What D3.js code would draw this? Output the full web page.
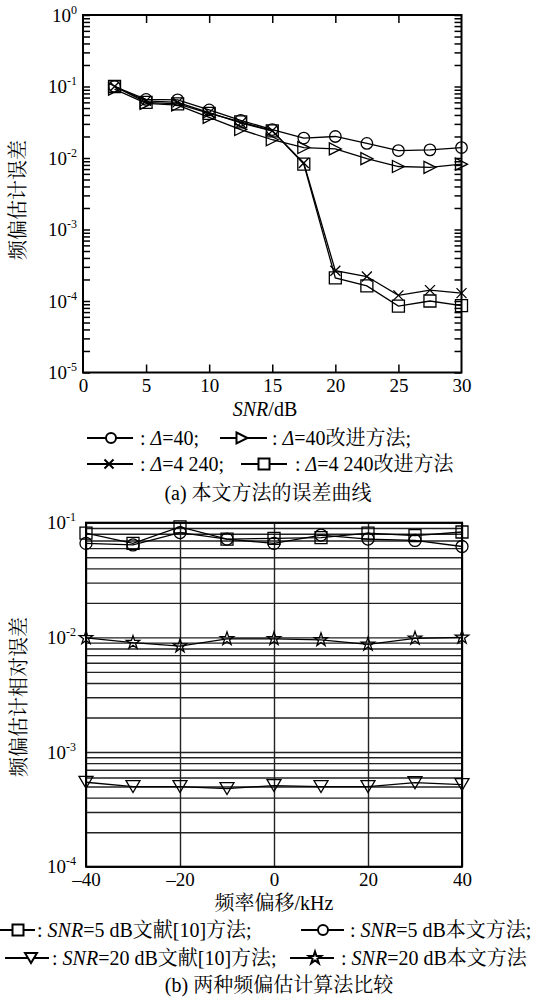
<!DOCTYPE html>
<html>
<head>
<meta charset="utf-8">
<script src="https://cdn.jsdelivr.net/npm/d3@7"></script>
<style>
body { margin: 0; background: #fff; }
</style>
</head>
<body>
<svg id="chart" width="549" height="1000"></svg>
<script>
// (a) error vs SNR
const snr = [2.5, 5, 7.5, 10, 12.5, 15, 17.5, 20, 22.5, 25, 27.5, 30];
const d40 = [0.100, 0.066, 0.065, 0.047, 0.0335, 0.025, 0.019, 0.020, 0.016, 0.0127, 0.013, 0.014];
const d40imp = [0.092, 0.058, 0.055, 0.037, 0.025, 0.018, 0.014, 0.0134, 0.0098, 0.0076, 0.0074, 0.0082];
const d4240 = [0.100, 0.063, 0.060, 0.043, 0.031, 0.024, 0.0085, 0.000265, 0.00022, 0.00012, 0.000142, 0.000129];
const d4240imp = [0.100, 0.060, 0.057, 0.042, 0.032, 0.024, 0.0082, 0.00021, 0.000163, 0.000085, 0.0001, 0.000086];
const snrTicks = [0, 5, 10, 15, 20, 25, 30];
const topLegend = [": Δ=40;", ": Δ=40改进方法;", ": Δ=4 240;", ": Δ=4 240改进方法"];

// (b) error vs frequency offset
const offsets = [-40, -30, -20, -10, 0, 10, 20, 30, 40];
const ref5 = [0.081, 0.066, 0.092, 0.072, 0.073, 0.074, 0.081, 0.077, 0.083];
const our5 = [0.066, 0.064, 0.082, 0.072, 0.066, 0.078, 0.072, 0.070, 0.062];
const ref20 = [0.000545, 0.0005, 0.0005, 0.00048, 0.00051, 0.0005, 0.0005, 0.00054, 0.00052];
const our20 = [0.0099, 0.0090, 0.0084, 0.0097, 0.0097, 0.0095, 0.0087, 0.0098, 0.0100];
const offTicks = [-40, -20, 0, 20, 40];
const offTickLabels = ["\u201340", "\u201320", "0", "20", "40"];
const botLegend = [": SNR=5 dB文献[10]方法;", ": SNR=5 dB本文方法;", ": SNR=20 dB文献[10]方法;", ": SNR=20 dB本文方法"];

const FONT = '"Liberation Serif", "Noto Serif CJK SC", serif';
const svg = d3.select("#chart").style("font-family", FONT);

function rich(sel, str) {
    str.split(/(Δ|SNR)/).filter(s => s).forEach(s => {
        sel.append("tspan")
            .style("font-style", (s === "Δ" || s === "SNR") ? "italic" : "normal")
            .text(s);
    });
}

function markerPath(type, s) {
    const h = s / 2;
    if (type === "circle") return d3.symbol(d3.symbolCircle, Math.PI * h * h)();
    if (type === "square") return d3.symbol(d3.symbolSquare, s * s)();
    if (type === "star") return d3.symbol(d3.symbolStar, h * h / 0.89)();
    if (type === "cross") return `M${-h},${-h}L${h},${h}M${-h},${h}L${h},${-h}`;
    if (type === "triRight") return `M${-h},${-h}L${h},0L${-h},${h}Z`;
    if (type === "triDown") return `M${-h},${-h * 0.85}L${h},${-h * 0.85}L0,${h * 0.85}Z`;
}

function decadeLabels(g, y, exps, xRight) {
    exps.forEach(e => {
        const t = g.append("text")
            .attr("x", xRight)
            .attr("y", y(Math.pow(10, e)) + 6.5)
            .attr("text-anchor", "end")
            .style("font-size", "19px");
        t.append("tspan").text("10");
        t.append("tspan").attr("dy", -8).style("font-size", "12px").text(e === 0 ? "0" : "-" + (-e));
    });
}

function logMinor(lo, hi) {
    const v = [];
    for (let e = lo; e < hi; e++) for (let k = 1; k < 10; k++) v.push(k * Math.pow(10, e));
    v.push(Math.pow(10, hi));
    return v;
}

function drawSeries(g, x, y, xs, ys, type, size) {
    const pts = xs.map((d, i) => [d, ys[i]]);
    g.append("path")
        .attr("d", d3.line().x(d => x(d[0])).y(d => y(d[1]))(pts))
        .attr("fill", "none").attr("stroke", "#000").attr("stroke-width", 1.3);
    g.selectAll(null).data(pts).join("path")
        .attr("transform", d => `translate(${x(d[0])},${y(d[1])})`)
        .attr("d", markerPath(type, size))
        .attr("fill", "none").attr("stroke", "#000").attr("stroke-width", 1.3);
}

function legendItem(g, x0, x1, xm, cy, type, size, tx, label) {
    g.append("line").attr("x1", x0).attr("x2", x1).attr("y1", cy).attr("y2", cy)
        .attr("stroke", "#000").attr("stroke-width", 2);
    g.append("path").attr("transform", `translate(${xm},${cy})`)
        .attr("d", markerPath(type, size))
        .attr("fill", "#fff").attr("stroke", "#000").attr("stroke-width", 2);
    const t = g.append("text").attr("x", tx).attr("y", cy + 7).style("font-size", "20px");
    rich(t, label);
}

// ---------- panel (a) ----------
{
    const L = 83, R = 461.5, T = 15, B = 372.5;
    const x = d3.scaleLinear().domain([0, 30]).range([L, R]);
    const y = d3.scaleLog().domain([1e-5, 1]).range([B, T]);
    const g = svg.append("g");
    const minor = logMinor(-5, 0);

    g.append("g").attr("transform", `translate(${L},0)`)
        .call(d3.axisRight(y).tickValues(minor).tickSize(7).tickFormat(""))
        .call(a => a.select(".domain").remove());
    g.append("g").attr("transform", `translate(${R},0)`)
        .call(d3.axisLeft(y).tickValues(minor).tickSize(7).tickFormat(""))
        .call(a => a.select(".domain").remove());
    g.append("g").attr("transform", `translate(0,${B})`)
        .call(d3.axisTop(x).tickValues(snrTicks.slice(1, -1)).tickSize(8).tickFormat(""))
        .call(a => a.select(".domain").remove());
    g.append("g").attr("transform", `translate(0,${T})`)
        .call(d3.axisBottom(x).tickValues(snrTicks.slice(1, -1)).tickSize(8).tickFormat(""))
        .call(a => a.select(".domain").remove());
    g.selectAll(".tick line").attr("stroke-width", 1.5);

    g.append("g").attr("transform", `translate(0,${B})`)
        .call(d3.axisBottom(x).tickValues(snrTicks).tickSize(0).tickPadding(6))
        .call(a => a.select(".domain").remove())
        .selectAll("text").style("font-size", "19px");

    decadeLabels(g, y, [0, -1, -2, -3, -4, -5], 77);

    drawSeries(g, x, y, snr, d40, "circle", 11.5);
    drawSeries(g, x, y, snr, d40imp, "triRight", 12);
    drawSeries(g, x, y, snr, d4240, "cross", 10);
    drawSeries(g, x, y, snr, d4240imp, "square", 12);

    g.append("rect").attr("x", L).attr("y", T).attr("width", R - L).attr("height", B - T)
        .attr("fill", "none").attr("stroke", "#000").attr("stroke-width", 2);

    const xl = g.append("text").attr("x", 265).attr("y", 416).attr("text-anchor", "middle").style("font-size", "20px");
    rich(xl, "SNR/dB");
    g.append("text").attr("transform", "translate(25,200) rotate(-90)")
        .attr("text-anchor", "middle").style("font-size", "20px").text("频偏估计误差");

    legendItem(g, 87, 133, 111, 438, "circle", 10, 140, topLegend[0]);
    legendItem(g, 220, 267, 242, 438, "triRight", 11, 272, topLegend[1]);
    legendItem(g, 87, 133, 109, 464, "cross", 9, 140, topLegend[2]);
    legendItem(g, 241, 287, 264, 464, "square", 11, 295, topLegend[3]);

    g.append("text").attr("x", 268).attr("y", 500).attr("text-anchor", "middle")
        .style("font-size", "20px").text("(a) 本文方法的误差曲线");
}

// ---------- panel (b) ----------
{
    const L = 86, R = 462, T = 522.7, B = 866.7;
    const x = d3.scaleLinear().domain([-40, 40]).range([L, R]);
    const y = d3.scaleLog().domain([1e-4, 1e-1]).range([B, T]);
    const g = svg.append("g");
    const minor = logMinor(-4, -1);

    g.append("g").attr("transform", `translate(${L},0)`)
        .call(d3.axisRight(y).tickValues(minor).tickSize(R - L).tickFormat(""))
        .call(a => a.select(".domain").remove())
        .selectAll("line").attr("stroke", "#222").attr("stroke-width", 1.4);
    g.append("g").attr("transform", `translate(0,${B})`)
        .call(d3.axisTop(x).tickValues(offTicks).tickSize(B - T).tickFormat(""))
        .call(a => a.select(".domain").remove())
        .selectAll("line").attr("stroke", "#222").attr("stroke-width", 1.4);

    g.append("g").attr("transform", `translate(0,${B})`)
        .call(d3.axisBottom(x).tickValues(offTicks).tickSize(0).tickPadding(6)
            .tickFormat((d, i) => offTickLabels[i]))
        .call(a => a.select(".domain").remove())
        .selectAll("text").style("font-size", "19px");

    decadeLabels(g, y, [-1, -2, -3, -4], 76);

    drawSeries(g, x, y, offsets, ref5, "square", 12);
    drawSeries(g, x, y, offsets, our5, "circle", 12);
    drawSeries(g, x, y, offsets, ref20, "triDown", 14);
    drawSeries(g, x, y, offsets, our20, "star", 14);

    g.append("rect").attr("x", L).attr("y", T).attr("width", R - L).attr("height", B - T)
        .attr("fill", "none").attr("stroke", "#000").attr("stroke-width", 2);

    g.append("text").attr("x", 274).attr("y", 910).attr("text-anchor", "middle")
        .style("font-size", "20px").text("频率偏移/kHz");
    g.append("text").attr("transform", "translate(26,697) rotate(-90)")
        .attr("text-anchor", "middle").style("font-size", "20px").text("频偏估计相对误差");

    legendItem(g, 0, 35, 18, 930, "square", 11, 37, botLegend[0]);
    legendItem(g, 301, 344, 323, 930, "circle", 10, 350, botLegend[1]);
    legendItem(g, 5, 49, 31, 958, "triDown", 12, 52, botLegend[2]);
    legendItem(g, 290, 334, 315, 958, "star", 13, 341, botLegend[3]);

    g.append("text").attr("x", 279).attr("y", 992).attr("text-anchor", "middle")
        .style("font-size", "20px").text("(b) 两种频偏估计算法比较");
}

// one font everywhere (axis groups set their own)
svg.selectAll("g").attr("font-family", null);
svg.selectAll("text").style("font-family", FONT).attr("fill", "#000");
</script>
</body>
</html>
